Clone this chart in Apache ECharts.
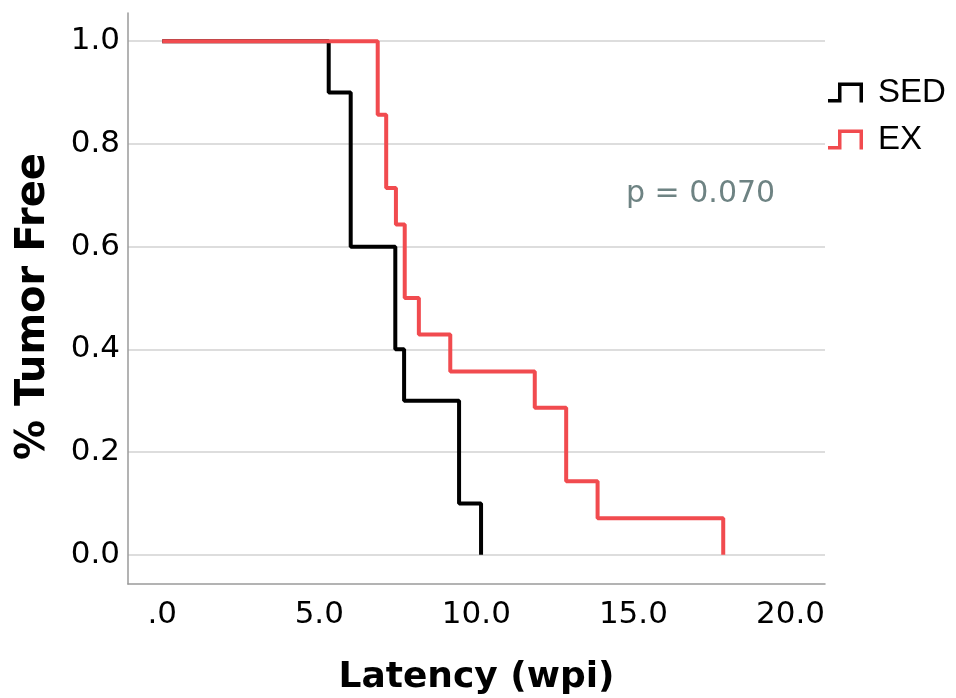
<!DOCTYPE html>
<html>
<head>
<meta charset="utf-8">
<script src="https://cdn.jsdelivr.net/npm/echarts@6/dist/echarts.min.js"></script>
<style>
  html, body { margin: 0; padding: 0; background: #ffffff; }
  #chart { width: 956px; height: 698px; }
</style>
</head>
<body>
<div id="chart"></div>
<script>
// Kaplan-Meier tumor-free curves: weeks post-induction vs. fraction tumor free
const sedTimes = [0, 5.3, 6.0, 7.42, 7.7, 9.45, 10.15];
const sedSurvival = [1.0, 0.9, 0.6, 0.4, 0.3, 0.1, 0.0];

const exTimes = [0, 6.86, 7.13, 7.44, 7.72, 8.17, 9.17, 11.86, 12.86, 13.86, 17.86];
const exSurvival = [1.0, 0.857, 0.714, 0.643, 0.5, 0.429, 0.357, 0.286, 0.143, 0.071, 0.0];

const seriesNames = ['SED', 'EX'];

const xTickValues = [0, 5, 10, 15, 20];
const xTickLabels = ['.0', '5.0', '10.0', '15.0', '20.0'];
const yTickValues = [0, 0.2, 0.4, 0.6, 0.8, 1.0];
const yTickLabels = ['0.0', '0.2', '0.4', '0.6', '0.8', '1.0'];

const pValueText = 'p = 0.070';

const pairs = (xs, ys) => xs.map((x, i) => [x, ys[i]]);

// step icon used in the legend
const stepIcon = 'path://M0,16.5L10,16.5L10,0L35,0L35,20L31.5,20L31.5,3.5L13.5,3.5L13.5,20L0,20Z';

const chart = echarts.init(document.getElementById('chart'), null, { renderer: 'canvas' });

chart.setOption({
  animation: false,
  backgroundColor: '#ffffff',
  grid: { left: 128, right: 131, top: 13, bottom: 114, containLabel: false, outerBoundsMode: 'none' },
  legend: {
    orient: 'vertical',
    left: 823,
    top: 71,
    itemWidth: 35,
    itemHeight: 20,
    itemGap: 14,
    data: seriesNames.map(n => ({ name: n, icon: stepIcon })),
    textStyle: {
      fontFamily: 'Liberation Sans',
      fontSize: 33,
      color: '#000000',
      padding: [0, 0, 0, 10]
    }
  },
  xAxis: {
    type: 'value',
    min: -1.09,
    max: 21.1,
    name: 'Latency (wpi)',
    nameLocation: 'middle',
    nameGap: 76,
    nameTextStyle: { fontFamily: 'DejaVu Sans', fontWeight: 'bold', fontSize: 36, color: '#000000' },
    axisLine: { show: true, onZero: false, lineStyle: { color: '#9a9a9a', width: 1.5 } },
    axisTick: { show: false, customValues: xTickValues },
    splitLine: { show: false },
    axisLabel: {
      customValues: xTickValues,
      formatter: v => xTickLabels[xTickValues.indexOf(v)],
      fontFamily: 'DejaVu Sans',
      fontSize: 31,
      color: '#000000',
      margin: 15
    }
  },
  yAxis: {
    type: 'value',
    min: -0.057,
    max: 1.055,
    name: '% Tumor Free',
    nameLocation: 'middle',
    nameGap: 74,
    nameTextStyle: {
      fontFamily: 'DejaVu Sans',
      fontWeight: 'bold',
      fontSize: 40,
      color: '#000000',
      padding: [0, 16, 0, 0]
    },
    axisLine: { show: true, onZero: false, lineStyle: { color: '#9a9a9a', width: 1.5 } },
    axisTick: { show: false, customValues: yTickValues },
    splitLine: { show: true, lineStyle: { color: '#d2d2d2', width: 1.5 } },
    axisLabel: {
      customValues: yTickValues,
      formatter: v => yTickLabels[yTickValues.indexOf(v)],
      fontFamily: 'DejaVu Sans',
      fontSize: 31,
      color: '#000000',
      margin: 8
    }
  },
  series: [
    {
      name: seriesNames[0],
      type: 'line',
      step: 'end',
      showSymbol: false,
      color: '#000000',
      lineStyle: { color: '#000000', width: 4 },
      data: pairs(sedTimes, sedSurvival),
      z: 2
    },
    {
      name: seriesNames[1],
      type: 'line',
      step: 'end',
      showSymbol: false,
      color: '#f14b4f',
      lineStyle: { color: '#f14b4f', width: 4 },
      data: pairs(exTimes, exSurvival),
      z: 3
    }
  ],
  graphic: [
    {
      type: 'text',
      left: 626,
      top: 179,
      style: {
        text: pValueText,
        fontFamily: 'DejaVu Sans',
        fontSize: 30,
        fill: '#6e8383'
      }
    }
  ]
});
</script>
</body>
</html>
